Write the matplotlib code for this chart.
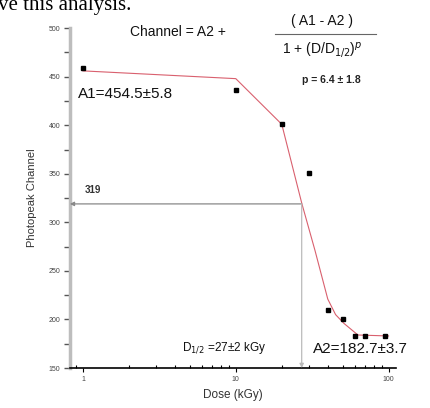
import numpy as np
import matplotlib.pyplot as plt

# Data
dose = [1, 10, 20, 30, 40, 50, 60, 70, 95]
channel = [459, 436, 401, 351, 210, 200, 183, 183, 183]

# fitted curve as drawn (red line)
fit_dose = [1, 10, 20, 27, 33, 40, 45, 51, 63, 100]
fit_channel = [456, 448, 401, 320, 271, 221, 205, 196, 184, 183]

x_ticks = [1, 10, 100]
x_tick_labels = ["1", "10", "100"]
y_ticks = [150, 200, 250, 300, 350, 400, 450, 500]

d_half = 27
c_half = 319

plt.rcParams['font.family'] = ['Liberation Sans', 'DejaVu Sans']

fig = plt.figure(figsize=(4.31, 4.08), dpi=100)
ax = fig.add_axes([0.162, 0.098, 0.757, 0.833])

ax.plot(fit_dose, fit_channel, color='#d9606e', lw=0.8, zorder=2)
ax.plot(dose, channel, 's', color='black', ms=3.2, zorder=3)

ax.set_xscale('log')
ax.set_xlim(0.82, 112)
ax.set_ylim(150, 500)

ax.set_xticks(x_ticks)
ax.set_xticklabels(x_tick_labels)
ax.set_yticks(y_ticks)
ax.set_yticks(np.arange(175, 500, 50), minor=True)
ax.tick_params(axis='y', which='both', direction='out', length=4, width=1,
               color='#555555', labelsize=5, labelcolor='#444444', pad=3)
ax.tick_params(axis='x', which='major', direction='out', length=3, width=0.8,
               labelsize=5, labelcolor='#444444', pad=3)
ax.tick_params(axis='x', which='minor', direction='in', length=2.5, width=0.8)

for s in ['top', 'right']:
    ax.spines[s].set_visible(False)
ax.spines['left'].set_color('#bdbdbd')
ax.spines['left'].set_linewidth(2.5)
ax.spines['bottom'].set_color('black')
ax.spines['bottom'].set_linewidth(1.2)

ax.set_xlabel('Dose (kGy)', fontsize=8.5, color='#333333', labelpad=4)
ax.set_ylabel('Photopeak Channel', fontsize=8, color='#333333', labelpad=8)

# guide arrows at D1/2
ax.annotate('', xy=(0.82, c_half), xytext=(d_half, c_half),
            arrowprops=dict(arrowstyle='-|>', color='#888888', lw=0.9,
                            mutation_scale=6, shrinkA=0, shrinkB=0))
ax.annotate('', xy=(d_half, 150), xytext=(d_half, c_half),
            arrowprops=dict(arrowstyle='-|>', color='#bbbbbb', lw=0.9,
                            mutation_scale=6, shrinkA=0, shrinkB=0))
ax.text(0.045, 0.515, '319', transform=ax.transAxes, fontsize=7,
        fontweight='bold', color='#333333')

ax.text(0.025, 0.795, 'A1=454.5\u00b15.8', transform=ax.transAxes,
        fontsize=11, color='#111111')
ax.text(0.745, 0.045, 'A2=182.7\u00b13.7', transform=ax.transAxes,
        fontsize=11, color='#111111')
ax.text(0.345, 0.05, 'D$_{1/2}$ =27\u00b12 kGy', transform=ax.transAxes,
        fontsize=8.5, color='#111111')

# equation
fig.text(130 / 431, 1 - 36 / 408, 'Channel = A2 +', fontsize=10, color='#111111')
fig.text(322 / 431, 1 - 21 / 408, '( A1 - A2 )', fontsize=10, color='#111111',
         ha='center', va='center')
fig.add_artist(plt.Line2D([275 / 431, 376 / 431], [1 - 34 / 408, 1 - 34 / 408],
                          color='#666666', lw=0.8))
fig.text(322 / 431, 1 - 50 / 408, '1 + (D/D$_{1/2}$)$^{p}$', fontsize=10,
         color='#111111', ha='center', va='center')
fig.text(331 / 431, 1 - 80 / 408, 'p = 6.4 \u00b1 1.8', fontsize=7.5,
         fontweight='bold', color='#222222', ha='center', va='center')

# cropped line of the surrounding document
fig.text(-0.005, 1 - 10 / 408, 've this analysis.', fontsize=15,
         family='Liberation Serif', color='black', va='baseline')

fig.savefig('out.png', dpi=100)
